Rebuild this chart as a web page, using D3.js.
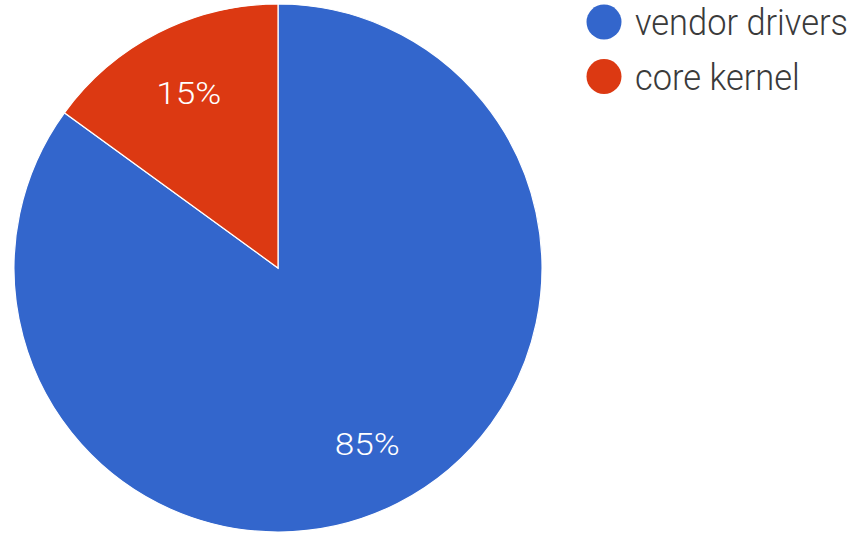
<!DOCTYPE html>
<html>
<head>
<meta charset="utf-8">
<script src="https://cdn.jsdelivr.net/npm/d3@7"></script>
<style>
  html, body { margin: 0; padding: 0; background: #fff; }
  svg { display: block; }
  text { font-family: Roboto, "Liberation Sans", Arial, sans-serif; font-weight: 300; }
</style>
</head>
<body>
<svg id="chart" width="852" height="533"></svg>
<script>
// Share of code by origin
const categories = ["vendor drivers", "core kernel"];
const shares = [85, 15];
const colors = ["#3366cc", "#dc3912"];

const svg = d3.select("#chart");
const cx = 278, cy = 268, radius = 264;

const color = d3.scaleOrdinal().domain(categories).range(colors);

const pie = d3.pie().sort(null).value(d => d.value);
const data = categories.map((c, i) => ({ name: c, value: shares[i] }));
const arcs = pie(data);

const arc = d3.arc().innerRadius(0).outerRadius(radius);
const labelArc = d3.arc().innerRadius(radius * 0.745).outerRadius(radius * 0.745);

const g = svg.append("g").attr("transform", `translate(${cx},${cy})`);

g.selectAll("path.slice")
  .data(arcs)
  .join("path")
  .attr("class", "slice")
  .attr("d", arc)
  .attr("fill", d => color(d.data.name))
  .attr("stroke", "#fff")
  .attr("stroke-width", 1.2);

const total = d3.sum(shares);
g.selectAll("text.pct")
  .data(arcs)
  .join("text")
  .attr("class", "pct")
  .attr("transform", d => `translate(${labelArc.centroid(d)}) scale(1.1,1)`)
  .attr("text-anchor", "middle")
  .attr("dy", "0.36em")
  .attr("fill", "#fff")
  .attr("font-size", 32)
  .text(d => Math.round(d.data.value / total * 100) + "%");

// Legend
const legend = svg.append("g").attr("transform", "translate(604,22)");
const rows = legend.selectAll("g.row")
  .data(categories)
  .join("g")
  .attr("class", "row")
  .attr("transform", (d, i) => `translate(0,${i * 54.5})`);

rows.append("circle")
  .attr("r", 17.5)
  .attr("fill", d => color(d));

rows.append("text")
  .attr("transform", "translate(31,0) scale(0.93,1)")
  .attr("dy", "0.36em")
  .attr("fill", "#3a3a3a")
  .attr("font-size", 37)
  .text(d => d);
</script>
</body>
</html>
